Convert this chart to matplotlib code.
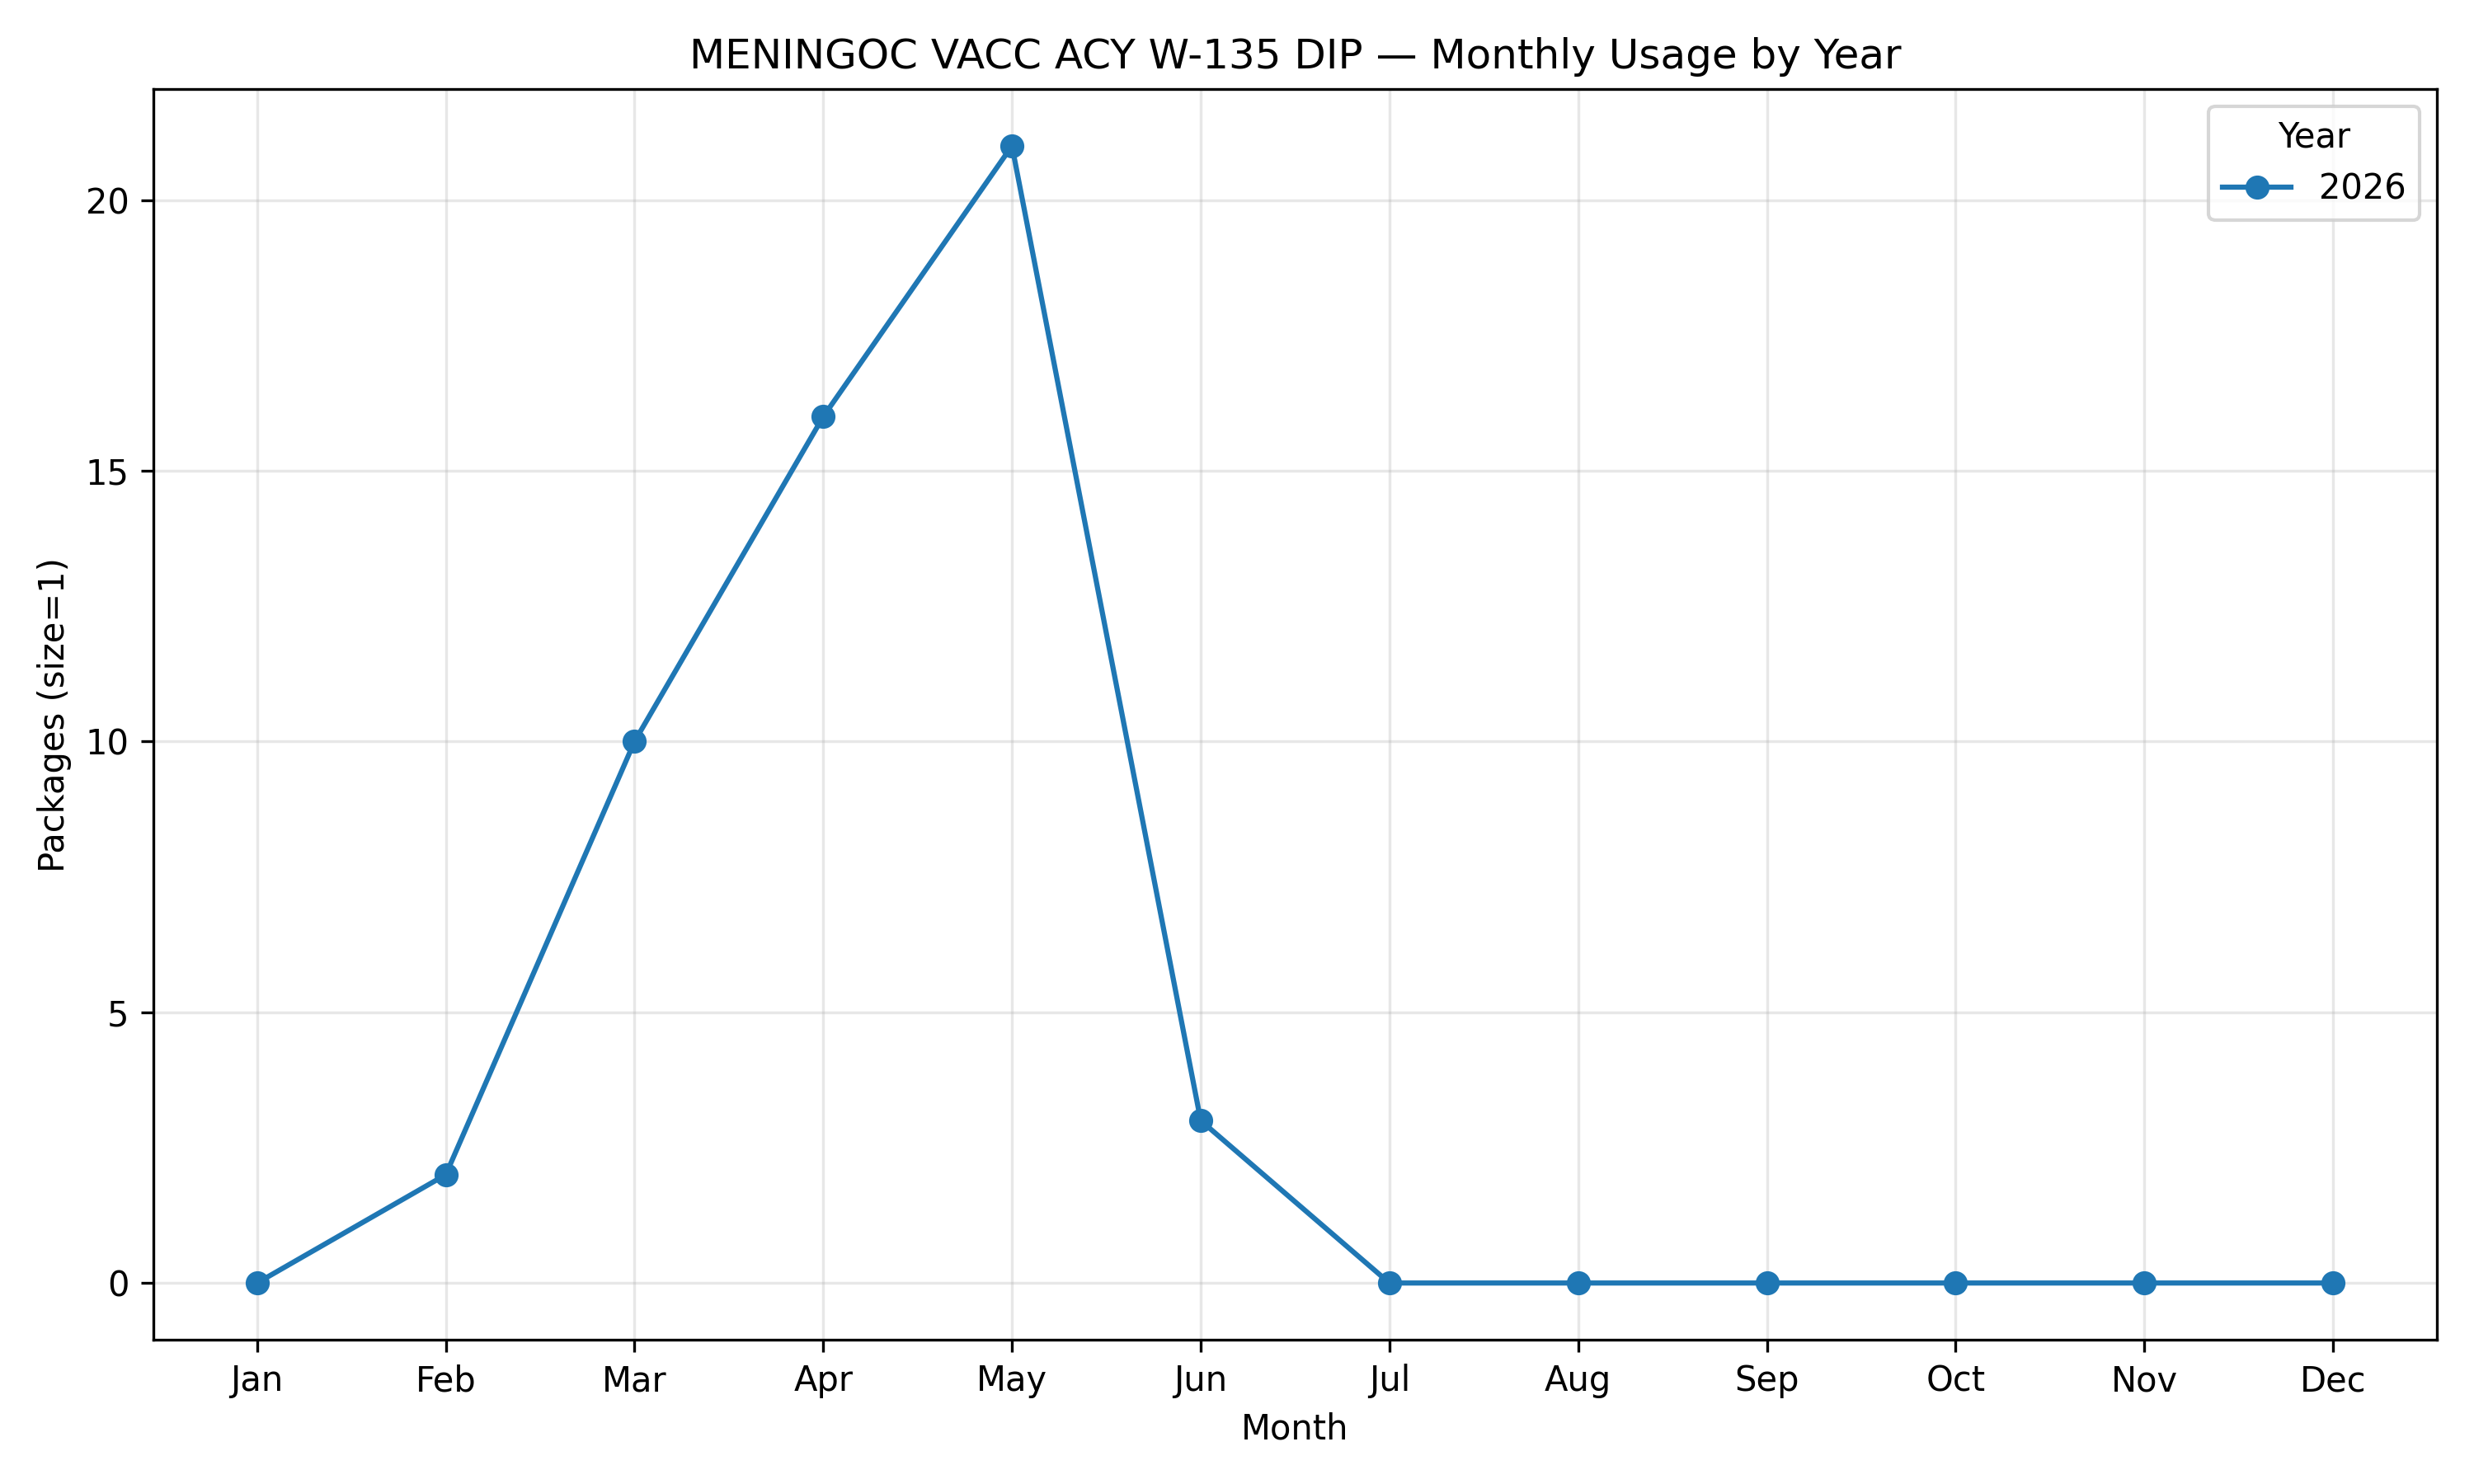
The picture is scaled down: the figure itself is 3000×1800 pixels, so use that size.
import matplotlib.pyplot as plt

# Data
MONTHS = ['Jan', 'Feb', 'Mar', 'Apr', 'May', 'Jun', 'Jul', 'Aug', 'Sep', 'Oct', 'Nov', 'Dec']
YEAR = '2026'
PACKAGES_2026 = [0, 2, 10, 16, 21, 3, 0, 0, 0, 0, 0, 0]

fig, ax = plt.subplots(figsize=(10, 6), dpi=300)

x = list(range(1, len(MONTHS) + 1))
ax.plot(x, PACKAGES_2026, marker='o', label=YEAR)

ax.set_xticks(x)
ax.set_xticklabels(MONTHS)
ax.set_xlabel('Month')
ax.set_ylabel('Packages (size=1)')
ax.set_title('MENINGOC VACC ACY W-135 DIP \u2014 Monthly Usage by Year')
ax.grid(True, alpha=0.3)
ax.legend(title='Year')

fig.tight_layout()
fig.savefig('out.png', dpi=300)
